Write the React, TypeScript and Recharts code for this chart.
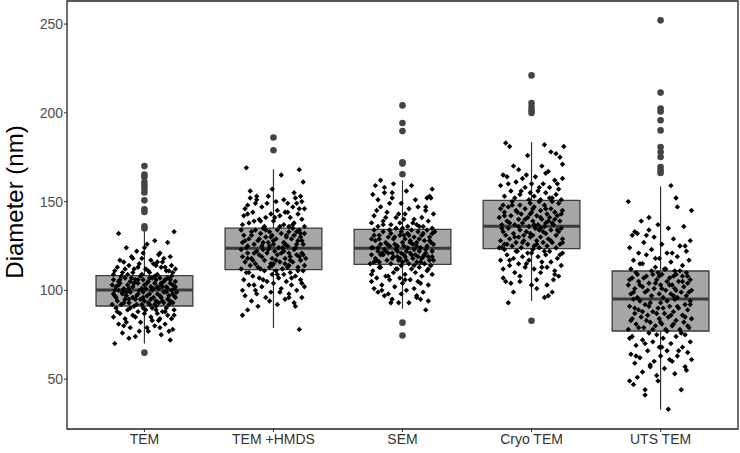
import { ComposedChart, Scatter, XAxis, YAxis, ReferenceArea, ReferenceLine } from "recharts";

const categories = ["TEM", "TEM +HMDS", "SEM", "Cryo TEM", "UTS TEM"];
const yTicks = [50, 100, 150, 200, 250];

// box statistics per category (nm)
const lowerWhisker = [70.0, 78.8, 89.7, 94.0, 32.8];
const q1 = [91.2, 111.7, 114.6, 123.5, 77.1];
const median = [100.2, 123.7, 123.7, 136.1, 95.1];
const q3 = [108.3, 135.1, 134.4, 150.7, 110.9];
const upperWhisker = [132.8, 168.2, 162.0, 183.5, 158.6];

const outliersTEM = [170.0, 165.2, 163.8, 161.0, 159.2, 157.3, 155.1, 150.7, 145.6, 144.1, 136.1, 134.8, 64.9];
const outliersHMDS = [186.1, 178.9];
const outliersSEM = [204.2, 194.3, 189.7, 172.1, 171.4, 165.4, 81.8, 74.6];
const outliersCryo = [221.1, 205.5, 203.3, 201.4, 199.9, 82.9];
const outliersUTS = [252.1, 211.4, 202.4, 200.8, 195.8, 190.1, 180.7, 177.9, 175.1, 169.5, 167.6, 166.1];

// jittered points: [offset in hundredths of a category, diameter]
const pointsTEM = [
  [-23,70],[20,72],[-7,74],[13,75],[-17,76],[3,77],[22,78],[-11,79],[8,80],[-20,81],[16,81],[-3,82],[11,83],[-15,84],[21,84],[-24,85],[5,85],[-9,86],[18,86],[0,87],[-19,87],[14,88],[-5,88],[9,89],[-13,89],[23,89],[-1,90],[-22,90],[6,90],[17,90],[-8,91],[12,84],[-16,80],[2,79],[19,77],[-12,73],[10,87],
  [-25,92],[-18,92],[-6,92],[4,92],[15,93],[22,93],[-12,93],[0,94],[9,94],[-21,94],[18,95],[-3,95],[-15,95],[7,96],[24,96],[-9,96],[12,97],[-23,97],[2,97],[19,97],[-5,98],[-17,98],[10,98],[25,99],[-1,99],[-11,99],[15,99],[6,100],[-20,100],[21,100],[-7,95],[3,93],[13,96],[-14,97],[8,92],[-24,98],[20,94],
  [-2,101],[11,101],[-16,101],[23,101],[5,102],[-9,102],[17,102],[-22,102],[0,103],[13,103],[-13,103],[8,104],[-5,104],[20,104],[-19,104],[3,105],[15,105],[-11,105],[24,105],[-1,106],[9,106],[-24,106],[-7,106],[18,107],[-15,107],[6,107],[12,107],[-3,108],[21,108],[-18,108],[1,101],[-20,103],[16,106],[-8,104],[22,103],[4,107],[-12,101],[10,102],
  [-20,132],[23,133],[8,128],[-14,124],[18,127],[-6,122],[-1,121],[2,126],[12,121],[-10,119],[15,118],[-19,117],[-16,116],[5,117],[20,119],[-4,115],[9,114],[-12,114],[-21,113],[1,112],[13,113],[17,111],[-8,112],[22,110],[-17,110],[4,110],[-2,109],[10,109],[-13,109],[19,111],[-23,111],[7,115],[14,116],[-9,118],[0,124],[-5,113],[24,112],[11,120],
  [-22,96],[-14,99],[-4,100],[7,101],[17,99],[24,102],[-19,106],[-10,107],[2,104],[13,104],[20,106],[-25,103],[-6,97],[5,95],[14,94],[22,98],[-16,93],[-2,92],[9,91],[19,92],[-11,90],[1,89],[16,88],[-21,88],[-7,85],[6,83],[23,86],[-14,82],[12,79],[-4,77],[-20,105],[-9,110],[3,111],[16,113],[-15,112],[10,116],[-2,118],[21,114],[-24,109],[8,108],[-17,99],[4,98],[18,101],[-1,96],[11,93],[-12,95],[23,97],[-5,106],[14,102],[-23,100],
];
const pointsHMDS = [
  [-24,86],[20,78],[-20,89],[-12,91],[3,92],[16,93],[-17,94],[9,95],[22,96],[-6,96],[-22,97],[12,98],[-2,99],[18,100],[-14,100],[6,101],[-9,102],[24,102],[-19,103],[14,103],[0,104],[-5,105],[10,105],[-23,106],[21,106],[-11,107],[4,107],[17,108],[-16,108],[-1,109],[8,109],[-21,110],[13,110],[23,111],[-7,111],[2,111],[-13,98],
  [-25,112],[-10,112],[7,112],[19,113],[-3,113],[-18,114],[12,114],[24,114],[0,115],[-14,115],[5,116],[-22,116],[15,116],[-7,117],[21,117],[9,118],[-17,118],[-1,118],[-24,119],[13,119],[3,120],[-11,120],[18,120],[22,121],[-5,121],[-20,121],[8,122],[-13,122],[1,122],[16,123],[-8,123],[-25,123],[11,113],[-16,117],[20,119],[-2,115],[6,121],[25,118],
  [-21,124],[4,124],[17,124],[-9,125],[11,125],[-15,126],[23,126],[0,126],[-4,127],[8,127],[-24,127],[19,128],[-12,128],[2,129],[14,129],[-19,129],[-6,130],[21,130],[10,130],[-23,131],[-1,131],[16,131],[-10,132],[6,132],[24,132],[-17,133],[12,133],[-3,133],[20,134],[-14,134],[3,134],[-8,135],[15,135],[-20,125],[9,126],[22,128],[-2,130],[18,133],
  [-21,169],[6,165],[20,168],[23,161],[-18,152],[-13,151],[-4,153],[17,152],[21,153],[-20,148],[-14,149],[2,150],[11,149],[-22,146],[-9,147],[15,147],[24,146],[-16,144],[-2,143],[9,144],[19,143],[-23,142],[-6,141],[5,142],[13,141],[-11,140],[22,140],[0,139],[-19,138],[16,138],[-24,137],[8,137],[-7,136],[12,136],[-15,139],[3,145],[18,149],
  [-20,118],[-9,119],[2,117],[13,117],[23,120],[-15,121],[-4,123],[7,124],[18,126],[-22,128],[-11,129],[0,128],[10,131],[21,132],[-17,131],[-6,134],[5,136],[15,137],[-25,134],[24,136],[-12,113],[-1,114],[9,115],[19,111],[-19,110],[3,109],[14,107],[-8,106],[22,104],[-15,103],[5,99],[-24,100],[12,96],[-3,94],[17,91],[-10,139],[1,141],[11,144],[-20,143],[20,146],[-5,149],[8,151],[-13,153],[16,155],[-1,157],[-18,156],[22,150],[-8,127],[12,121],[-3,125],
];
const pointsSEM = [
  [18,89],[5,93],[-3,93],[-8,95],[14,95],[11,97],[-14,97],[-19,99],[-11,98],[16,99],[3,100],[-22,101],[9,101],[-6,102],[-16,103],[20,103],[0,104],[-24,105],[12,105],[-10,106],[6,106],[-2,107],[-20,107],[15,108],[-13,108],[23,109],[2,109],[-7,110],[10,110],[-23,111],[19,111],[-4,112],[7,112],[-17,113],[13,113],[-1,114],[22,114],
  [-25,115],[-9,115],[5,115],[17,115],[-18,116],[0,116],[11,116],[24,117],[-12,117],[-3,117],[8,118],[-21,118],[15,118],[-7,119],[2,119],[20,119],[-15,120],[10,120],[-24,120],[-1,121],[6,121],[18,121],[-11,121],[13,122],[-19,122],[3,122],[23,122],[-5,123],[9,123],[-14,123],[-22,116],[16,119],[-8,121],[21,117],[1,120],[-2,118],[12,119],[-17,120],
  [-23,124],[4,124],[14,124],[-10,125],[19,125],[-4,125],[8,126],[-17,126],[24,126],[0,127],[-13,127],[11,127],[-21,128],[6,128],[17,128],[-7,129],[2,129],[-24,129],[21,130],[-11,130],[9,130],[-2,131],[15,131],[-18,131],[4,132],[23,132],[-9,132],[-15,133],[12,133],[-1,133],[19,134],[-22,134],[7,134],[-6,126],[13,129],[-19,124],[1,131],[22,127],
  [-17,162],[-21,159],[-7,160],[7,159],[21,153],[19,152],[22,152],[-19,151],[-8,155],[-14,155],[-23,154],[-10,149],[-1,149],[5,146],[12,147],[-17,147],[18,145],[24,143],[-12,144],[2,143],[-22,142],[-5,141],[15,141],[9,140],[-15,139],[20,139],[-2,138],[-24,138],[11,137],[-9,137],[4,136],[-19,136],[16,136],[-5,135],[23,135],[1,140],[-13,141],
  [-20,117],[-8,118],[3,117],[14,116],[23,119],[-16,121],[-4,122],[7,120],[18,123],[-24,124],[-12,126],[1,125],[11,125],[21,128],[-18,129],[-6,130],[5,131],[16,132],[-22,131],[25,133],[-10,134],[0,135],[13,136],[-15,137],[8,138],[-3,143],[18,147],[-20,145],[10,151],[-8,152],[3,156],[-14,158],[23,157],[-18,113],[-5,112],[9,114],[20,112],[-24,109],[-11,108],[2,106],[14,104],[-16,100],[-1,98],[11,96],[-9,93],[20,94],[-4,119],[6,127],[-13,122],[17,120],
];
const pointsCryo = [
  [-18,93],[10,96],[13,97],[16,99],[-20,105],[-16,104],[0,103],[4,106],[21,108],[-9,108],[7,110],[-13,110],[18,111],[-22,112],[2,112],[12,113],[-5,113],[23,114],[-17,114],[-10,115],[8,116],[15,116],[-24,117],[-2,117],[20,118],[-14,118],[5,119],[-7,119],[11,120],[-19,120],[24,121],[-3,121],[14,122],[-11,122],[1,123],[-21,123],[17,106],
  [-25,124],[-8,124],[6,124],[19,124],[-15,125],[2,125],[12,125],[-21,126],[-3,126],[22,126],[9,127],[-12,127],[16,127],[-6,128],[-24,128],[4,128],[-17,129],[13,129],[24,129],[-1,130],[-10,130],[7,130],[19,131],[-20,131],[1,131],[-14,132],[11,132],[-4,133],[21,133],[-22,133],[6,134],[15,134],[-9,134],[-18,135],[3,135],[23,135],[-2,136],[10,136],
  [-23,137],[-13,137],[5,137],[17,137],[-7,138],[11,138],[-19,139],[1,139],[22,139],[-10,140],[8,140],[-25,141],[-3,141],[14,141],[20,142],[-16,142],[4,142],[-8,143],[12,143],[-21,144],[0,144],[18,144],[-12,145],[7,145],[24,145],[-5,146],[15,146],[-18,147],[2,147],[10,148],[-22,148],[-9,148],[21,149],[-1,149],[-15,150],[6,150],[16,150],[-24,146],
  [-20,183],[-17,181],[10,182],[25,181],[-3,176],[15,178],[19,177],[22,175],[-14,170],[-10,168],[8,170],[13,167],[-22,165],[-19,164],[-7,163],[3,164],[18,162],[24,163],[-12,161],[0,160],[9,160],[-24,159],[-5,158],[14,158],[21,157],[-16,156],[5,156],[-1,155],[11,155],[-9,154],[19,154],[-21,153],[2,153],[16,152],[-13,152],[7,151],[23,151],
  [-19,126],[-7,127],[4,126],[15,128],[24,127],[-13,130],[-1,132],[9,133],[20,134],[-23,135],[-10,136],[2,137],[13,139],[-17,138],[-5,140],[7,141],[18,140],[-21,142],[23,143],[-11,144],[1,146],[11,146],[-15,148],[-2,151],[14,152],[-8,156],[6,158],[20,160],[-18,160],[-4,165],[11,166],[24,171],[-23,124],[-12,122],[0,121],[10,122],[22,120],[-17,117],[-4,115],[8,113],[18,109],[-22,107],[-9,105],[4,101],[-14,99],[12,103],[-6,131],[16,138],[-1,143],[7,135],
];
const pointsUTS = [
  [6,33],[16,44],[-12,44],[-12,41],[-24,49],[-21,47],[-18,51],[-14,54],[-3,52],[11,53],[3,56],[-8,57],[19,57],[-20,59],[-5,60],[9,60],[24,61],[-16,62],[0,63],[13,63],[-23,64],[21,65],[-10,66],[5,66],[-1,68],[17,68],[-19,69],[8,70],[-6,71],[23,71],[-14,72],[2,73],[12,74],[-22,74],[-3,75],[19,75],[-9,76],
  [-25,78],[4,78],[15,78],[-13,79],[22,79],[-4,80],[9,80],[-19,81],[1,81],[18,82],[-8,82],[-23,83],[12,83],[-1,84],[24,84],[-15,85],[6,85],[-10,86],[17,86],[-20,87],[3,87],[10,88],[-6,88],[21,89],[-17,89],[-2,90],[14,90],[-24,91],[7,91],[-12,92],[19,92],[0,93],[-8,93],[23,94],[-16,94],[5,94],[11,95],[-21,95],
  [-18,96],[2,96],[13,96],[-7,97],[20,97],[-23,98],[8,98],[-1,98],[16,99],[-12,99],[24,100],[4,100],[-20,101],[-5,101],[11,101],[18,102],[-14,102],[0,103],[-25,103],[9,103],[21,104],[-9,104],[5,105],[-17,105],[14,105],[-3,106],[23,106],[-22,107],[7,107],[-11,108],[17,108],[1,109],[-6,109],[12,109],[-19,110],[20,110],[-2,110],[10,97],
  [8,159],[-25,150],[12,152],[13,147],[24,145],[-15,139],[-2,137],[-9,134],[-20,133],[-18,132],[-22,131],[6,135],[18,136],[-5,130],[10,129],[23,128],[-13,127],[1,126],[15,125],[-24,124],[-7,123],[20,122],[-17,121],[5,121],[-11,120],[13,119],[-1,118],[-21,117],[22,117],[8,116],[-14,115],[17,114],[-4,113],[-23,112],[3,112],[11,111],[-9,141],
  [-21,99],[-10,100],[1,101],[12,100],[22,99],[-16,103],[-4,104],[7,103],[17,105],[-24,106],[-13,107],[-1,108],[10,108],[21,108],[-18,109],[-7,111],[4,112],[15,111],[-20,90],[-9,91],[2,90],[13,91],[23,92],[-14,88],[-3,87],[8,86],[19,85],[-22,84],[-11,83],[0,82],[10,81],[21,80],[-17,79],[-6,78],[5,77],[16,76],[-24,73],[-12,70],[1,68],[14,66],[-19,63],[7,61],[-8,58],[20,55],[-2,49],[-16,115],[-4,118],[9,121],[19,125],[-11,131],
];

const pointGroups = [pointsTEM, pointsHMDS, pointsSEM, pointsCryo, pointsUTS];
const outlierGroups = [outliersTEM, outliersHMDS, outliersSEM, outliersCryo, outliersUTS];

const jitterData = pointGroups.flatMap((pts, i) => pts.map(([j, v]) => ({ x: i + 1 + j / 100, y: v })));
const outlierData = outlierGroups.flatMap((vals, i) => vals.map((v) => ({ x: i + 1, y: v })));

const Y_MIN = 21.9;
const Y_MAX = 263.0;
const HALF = 0.375;

const Diamond = (props: any) => {
  const { cx, cy } = props;
  const r = 2.7;
  return <path d={`M${cx},${cy - r}L${cx + r},${cy}L${cx},${cy + r}L${cx - r},${cy}Z`} fill="#000" />;
};

const Dot = (props: any) => <circle cx={props.cx} cy={props.cy} r={3.3} fill="#444" />;

const YLabel = () => (
  <text
    transform="translate(23,202) rotate(-90)"
    textAnchor="middle"
    fontSize={24}
    fontFamily="Liberation Sans, Arial, sans-serif"
    fill="#000"
  >
    Diameter (nm)
  </text>
);

export default function App() {
  return (
    <div style={{ position: "absolute", left: 0, top: 0, width: 740, height: 453, background: "#fff" }}>
      <ComposedChart width={740} height={453} margin={{ top: 1, right: 2, bottom: 0, left: 0 }}>
        <XAxis
          type="number"
          dataKey="x"
          domain={[0.4, 5.6]}
          ticks={[1, 2, 3, 4, 5]}
          allowDataOverflow
          tickFormatter={(v) => categories[v - 1]}
          height={24}
          axisLine={false}
          tickSize={3}
          tickLine={{ stroke: "#333" }}
          tick={{ fontSize: 14, fill: "#333", fontFamily: "Liberation Sans, Arial, sans-serif" }}
        />
        <YAxis
          type="number"
          dataKey="y"
          domain={[Y_MIN, Y_MAX]}
          ticks={yTicks}
          allowDataOverflow
          width={67}
          axisLine={false}
          tickSize={3}
          tickMargin={1}
          tickLine={{ stroke: "#333" }}
          tick={{ fontSize: 14, fill: "#4d4d4d", fontFamily: "Liberation Sans, Arial, sans-serif" }}
          label={<YLabel />}
        />
        {categories.map((c, i) => (
          <ReferenceLine
            key={`wl-${c}`}
            segment={[{ x: i + 1, y: lowerWhisker[i] }, { x: i + 1, y: q1[i] }]}
            stroke="#333"
            strokeWidth={1.2}
          />
        ))}
        {categories.map((c, i) => (
          <ReferenceLine
            key={`wu-${c}`}
            segment={[{ x: i + 1, y: q3[i] }, { x: i + 1, y: upperWhisker[i] }]}
            stroke="#333"
            strokeWidth={1.2}
          />
        ))}
        {categories.map((c, i) => (
          <ReferenceArea
            key={`box-${c}`}
            x1={i + 1 - HALF}
            x2={i + 1 + HALF}
            y1={q1[i]}
            y2={q3[i]}
            fill="#a6a6a6"
            fillOpacity={1}
            stroke="#3d3d3d"
            strokeWidth={1.3}
          />
        ))}
        {categories.map((c, i) => (
          <ReferenceLine
            key={`med-${c}`}
            segment={[{ x: i + 1 - HALF, y: median[i] }, { x: i + 1 + HALF, y: median[i] }]}
            stroke="#3a3a3a"
            strokeWidth={3}
          />
        ))}
        <ReferenceArea
          x1={0.4}
          x2={5.6}
          y1={Y_MIN}
          y2={Y_MAX}
          fill="none"
          stroke="#222"
          strokeWidth={1.3}
          ifOverflow="visible"
        />
        <Scatter data={outlierData} shape={<Dot />} isAnimationActive={false} />
        <Scatter data={jitterData} shape={<Diamond />} isAnimationActive={false} />
      </ComposedChart>
    </div>
  );
}
